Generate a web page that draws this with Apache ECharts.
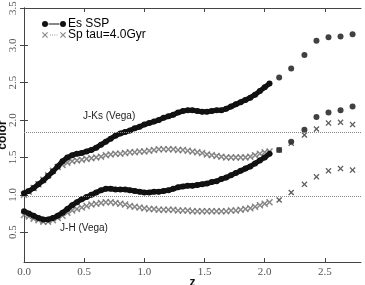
<!DOCTYPE html>
<html lang="en">
<head>
    <meta charset="UTF-8">
    <title>color vs z</title>
    <script type="text/javascript" src="https://cdn.jsdelivr.net/npm/echarts@6/dist/echarts.min.js"></script>
    <style>
        html, body { margin: 0; padding: 0; background: #fff; }
    </style>
</head>
<body>
<div id="main" style="width:365px;height:285px;"></div>
<script type="text/javascript">
    // redshift grid of the dense part, then the sparse points
    var zDense = [0.00,0.04,0.08,0.12,0.16,0.20,0.24,0.28,0.32,0.36,0.40,0.44,0.48,0.52,0.56,0.60,0.64,0.68,0.72,0.76,
        0.80,0.84,0.88,0.92,0.96,1.00,1.04,1.08,1.12,1.16,1.20,1.24,1.28,1.32,1.36,1.40,1.44,1.48,1.52,1.56,
        1.60,1.64,1.68,1.72,1.76,1.80,1.84,1.88,1.92,1.96,2.00,2.04];
    var zSparse = [2.12,2.22,2.33,2.43,2.53,2.63,2.73];

    // Es SSP
    var esJKs = [1.02,1.05,1.09,1.14,1.19,1.25,1.31,1.38,1.45,1.50,1.53,1.55,1.56,1.58,1.60,1.63,1.67,1.71,1.75,1.79,
        1.82,1.84,1.86,1.89,1.91,1.94,1.96,1.98,2.00,2.03,2.05,2.07,2.10,2.12,2.13,2.13,2.12,2.11,2.11,2.12,
        2.13,2.13,2.15,2.18,2.21,2.24,2.27,2.30,2.34,2.39,2.44,2.49];
    var esJH = [0.78,0.75,0.72,0.69,0.67,0.67,0.69,0.72,0.76,0.81,0.86,0.90,0.94,0.97,1.00,1.03,1.06,1.08,1.08,1.07,
        1.07,1.07,1.06,1.05,1.04,1.03,1.03,1.04,1.04,1.05,1.06,1.08,1.10,1.11,1.12,1.12,1.13,1.14,1.15,1.17,
        1.18,1.21,1.23,1.26,1.29,1.32,1.35,1.38,1.42,1.46,1.50,1.55];
    var esJKsSparse = [2.57,2.69,2.87,3.06,3.11,3.12,3.15];
    var esJHSparse = [1.60,1.71,1.87,2.04,2.10,2.13,2.18];

    // Sp tau=4.0Gyr
    var spJKs = [1.00,1.04,1.09,1.14,1.20,1.26,1.32,1.37,1.40,1.43,1.45,1.46,1.47,1.48,1.49,1.50,1.51,1.53,1.54,1.55,
        1.55,1.56,1.57,1.57,1.58,1.58,1.59,1.60,1.61,1.61,1.61,1.61,1.60,1.60,1.59,1.58,1.57,1.56,1.54,1.53,
        1.52,1.51,1.50,1.50,1.50,1.50,1.50,1.51,1.53,1.55,1.57,1.58];
    var spJH = [0.73,0.71,0.68,0.66,0.64,0.64,0.66,0.69,0.72,0.76,0.79,0.81,0.83,0.85,0.87,0.88,0.89,0.90,0.90,0.89,
        0.88,0.87,0.85,0.84,0.83,0.82,0.81,0.81,0.80,0.80,0.80,0.80,0.79,0.79,0.79,0.78,0.78,0.78,0.78,0.78,
        0.78,0.78,0.78,0.79,0.79,0.80,0.81,0.82,0.84,0.86,0.88,0.90];
    var spJKsSparse = [1.60,1.69,1.80,1.88,1.96,1.97,1.94];
    var spJHSparse = [0.93,1.03,1.14,1.24,1.32,1.35,1.33];

    // reference levels (dotted) and tick labels
    var refLevels = [1.84, 0.98];
    var xTicks = [0.0,0.5,1.0,1.5,2.0,2.5];
    var yTicks = [0.5,1.0,1.5,2.0,2.5,3.0,3.5];

    function pairs(xs, ys){
        var out = [];
        for(var i=0;i<xs.length;i++){
            out.push([xs[i], ys[i]]);
        }
        return out;
    }

    var crossPath = 'path://M0,1.5L1.5,0L5,3.5L8.5,0L10,1.5L6.5,5L10,8.5L8.5,10L5,6.5L1.5,10L0,8.5L3.5,5Z';
    var esIcon = 'path://M0,3A3,3,0,1,1,6,3A3,3,0,1,1,0,3ZM6.5,2.5H17.5V3.5H6.5ZM18,3A3,3,0,1,1,24,3A3,3,0,1,1,18,3Z';
    var spIcon = 'path://M0,0.8L0.8,0L3,2.2L5.2,0L6,0.8L3.8,3L6,5.2L5.2,6L3,3.8L0.8,6L0,5.2L2.2,3Z' +
        'M8,2.6H8.8V3.4H8ZM10.2,2.6H11V3.4H10.2ZM12.4,2.6H13.2V3.4H12.4ZM14.6,2.6H15.4V3.4H14.6Z' +
        'M18,0.8L18.8,0L21,2.2L23.2,0L24,0.8L21.8,3L24,5.2L23.2,6L21,3.8L18.8,6L18,5.2L20.2,3Z';

    var tickFont = {fontFamily:'Liberation Serif', fontSize:11, color:'#555'};
    var axisLineStyle = {color:'#444', width:1};
    var nameFont = {fontFamily:'Liberation Sans', fontSize:12, fontWeight:'bold', color:'#111'};

    var myChart = echarts.init(document.getElementById('main'));
    var option = {
        animation: false,
        backgroundColor: '#fff',
        grid: {left:24, right:4, top:8, bottom:23, outerBoundsMode:'none', containLabel:false},
        legend: {
            orient: 'vertical',
            left: 37,
            top: 13,
            itemWidth: 24,
            itemHeight: 6,
            itemGap: -1,
            textStyle: {fontFamily:'Liberation Sans', fontSize:12, color:'#000', padding:[0,0,0,-3]},
            data: [
                {name:'Es SSP', icon: esIcon},
                {name:'Sp tau=4.0Gyr', icon: spIcon}
            ]
        },
        xAxis: [
            {
                type:'value', min:0, max:2.8, position:'bottom',
                name:'z', nameLocation:'middle', nameGap:15, nameMoveOverlap:false,
                nameTextStyle:nameFont,
                splitLine:{show:false},
                axisLine:{lineStyle:axisLineStyle},
                axisTick:{inside:true, length:4, lineStyle:axisLineStyle, customValues:xTicks},
                axisLabel:Object.assign({margin:5, customValues:xTicks, formatter:function(v){return v.toFixed(1);}}, tickFont)
            },
            {
                type:'value', min:0, max:2.8, position:'top',
                splitLine:{show:false},
                axisLine:{lineStyle:axisLineStyle},
                axisTick:{inside:true, length:4, lineStyle:axisLineStyle, customValues:xTicks},
                axisLabel:{show:false}
            }
        ],
        yAxis: [
            {
                type:'value', min:0.1, max:3.5, position:'left',
                name:'color', nameLocation:'middle', nameGap:15, nameMoveOverlap:false,
                nameTextStyle:nameFont,
                splitLine:{show:false},
                axisLine:{show:true, lineStyle:axisLineStyle},
                axisTick:{show:true, inside:true, length:4, lineStyle:axisLineStyle, customValues:yTicks},
                axisLabel:Object.assign({margin:5, rotate:90, customValues:yTicks, formatter:function(v){return v.toFixed(1);}}, tickFont)
            },
            {
                type:'value', min:0.1, max:3.5, position:'right',
                splitLine:{show:false},
                axisLine:{show:true, lineStyle:axisLineStyle},
                axisTick:{show:true, inside:true, length:4, lineStyle:axisLineStyle, customValues:yTicks},
                axisLabel:{show:false}
            }
        ],
        series: [
            {
                name:'Es SSP', type:'line', data:pairs(zDense, esJKs),
                color:'#111', symbol:'circle', symbolSize:6, showAllSymbol:true,
                lineStyle:{width:5, color:'#111'},
                markLine:{
                    silent:true, symbol:'none', label:{show:false},
                    lineStyle:{type:'dotted', color:'#888', width:1},
                    data: refLevels.map(function(v){ return {yAxis:v}; })
                },
                markPoint:{
                    symbol:'circle', symbolSize:0,
                    label:{show:true, position:'right', distance:0, formatter:'{b}',
                        fontFamily:'Liberation Sans', fontSize:10, color:'#222'},
                    data:[
                        {name:'J-Ks (Vega)', coord:[0.49, 2.05]},
                        {name:'J-H (Vega)', coord:[0.30, 0.555]}
                    ]
                }
            },
            {
                name:'Es SSP', type:'line', data:pairs(zDense, esJH),
                color:'#111', symbol:'circle', symbolSize:6, showAllSymbol:true,
                lineStyle:{width:5, color:'#111'}
            },
            {
                name:'Es SSP', type:'scatter', color:'#111', symbol:'circle', symbolSize:6,
                data:pairs(zSparse, esJKsSparse).concat(pairs(zSparse, esJHSparse))
            },
            {
                name:'Sp tau=4.0Gyr', type:'scatter', color:'#6a6a6a', symbol:crossPath, symbolSize:7,
                data:pairs(zDense, spJKs)
            },
            {
                name:'Sp tau=4.0Gyr', type:'scatter', color:'#6a6a6a', symbol:crossPath, symbolSize:7,
                data:pairs(zDense, spJH)
            },
            {
                name:'Sp tau=4.0Gyr', type:'scatter', color:'#333', symbol:crossPath, symbolSize:6,
                data:pairs(zSparse, spJKsSparse).concat(pairs(zSparse, spJHSparse))
            }
        ]
    };
    myChart.setOption(option);
</script>
</body>
</html>
